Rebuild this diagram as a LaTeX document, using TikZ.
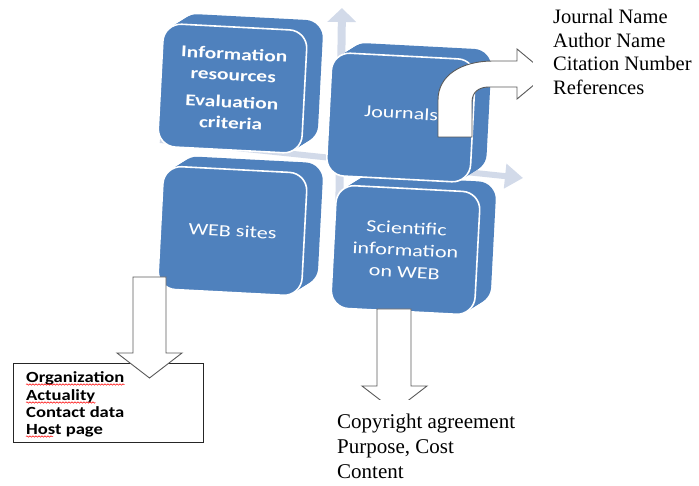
\documentclass[tikz,border=0pt]{standalone}
\usepackage{fontspec}
\setmainfont{Liberation Serif}
\newfontfamily\boxfont{Carlito}[FakeStretch=1.3]
\newfontfamily\listfont{Carlito}[FakeStretch=1.2]
\usetikzlibrary{arrows.meta,decorations.pathmorphing}
\definecolor{boxblue}{RGB}{79,129,189}
\definecolor{paleblue}{RGB}{210,218,233}
\definecolor{outlinegray}{RGB}{90,90,90}

\begin{document}
\begin{tikzpicture}[x=1pt,y=-1pt,
    face/.style={rectangle,rounded corners=18pt,fill=boxblue,minimum width=144pt,minimum height=123pt,rotate=-3,inner sep=0pt},
    front/.style={face,draw=white,line width=1.6pt,text=white,align=center},
    crossline/.style={paleblue,line width=8pt},
    listitem/.style={anchor=base west,inner sep=0pt,font=\listfont\bfseries\fontsize{15.5}{17}\selectfont},
    blockarrow/.style={draw=outlinegray,fill=white,line width=0.9pt,line join=miter},
    squiggle/.style={red,line width=0.5pt,decorate,decoration={snake,amplitude=0.7pt,segment length=3pt}}]
    \useasboundingbox (0,0) rectangle (699,486);

    % pale cross behind the boxes
    \draw [crossline,-{Triangle[length=14pt,width=28pt]}] (338,302) -- (342,8);
    \draw [crossline,line width=6pt,-{Triangle[length=18pt,width=24pt]}] (160,140) -- (523,178);

    % depth of the four boxes
    \foreach \cx/\cy in {232.5/88.5, 401/117.5, 232.5/231, 405.5/250}
        \foreach \t in {1,...,8}
            \node [face] at (\cx+2*\t,\cy-1.25*\t) {};

    \node [front,font=\boxfont\bfseries\fontsize{16.5}{21}\selectfont] (info) at (232.5,88.5) {Information\\resources\\[6pt]Evaluation\\criteria};
    \node [front,font=\boxfont\fontsize{17}{20}\selectfont] (journals) at (401,117.5) {\raisebox{9pt}{Journals}};
    \node [front,font=\boxfont\fontsize{17}{20}\selectfont] (websites) at (232.5,231) {WEB sites};
    \node [front,font=\boxfont\fontsize{17}{22}\selectfont] (sciinfo) at (405.5,250) {Scientific\\information\\on WEB};

    % criteria for web sites
    \node [draw=black!85,line width=0.8pt,minimum width=190pt,minimum height=79pt,inner sep=0pt] (weblist) at (108,402.5) {};
    \node [listitem] (org) at (26,382) {Organization};
    \node [listitem] (act) at (26,400) {Actuality};
    \node [listitem] (contact) at (26,417) {Contact data};
    \node [listitem] (host) at (26,434) {Host page};
    \draw [squiggle] ([yshift=-2.5pt]org.base west) -- ([yshift=-2.5pt]org.base east);
    \draw [squiggle] ([yshift=-2.5pt]act.base west) -- ([yshift=-2.5pt]act.base east);
    \draw [squiggle] ([yshift=-2.5pt]host.base west) -- ++(27,0);

    % block arrows
    \draw [blockarrow] (133,277) -- (133,353) -- (117,353) -- (149.5,378) -- (182,353) -- (166,353) -- (166,277) -- cycle;
    \draw [blockarrow] (377,309) -- (377,386) -- (362,386) -- (394.5,411) -- (427,386) -- (411,386) -- (411,309) -- cycle;
    \draw [blockarrow] (438,137) -- (438,100) .. controls (438,75) and (462,61) .. (493,61) -- (517,61) -- (517,49) -- (547,74) -- (517,99) -- (517,87) -- (489,87) .. controls (479,87) and (472,92) .. (472,102) -- (472,137) -- cycle;

    % data lists
    \node [anchor=north west,fill=white,inner xsep=20pt,inner ysep=4pt,align=left,font=\fontsize{20.5}{23.5}\selectfont] (jdata) at (533,5.5) {Journal Name\\Author Name\\Citation Number\\References};
    \node [anchor=north west,fill=white,inner xsep=4pt,inner ysep=14pt,align=left,font=\fontsize{21}{25}\selectfont] (scidata) at (333,400) {Copyright agreement\\Purpose, Cost\\Content};
\end{tikzpicture}
\end{document}
